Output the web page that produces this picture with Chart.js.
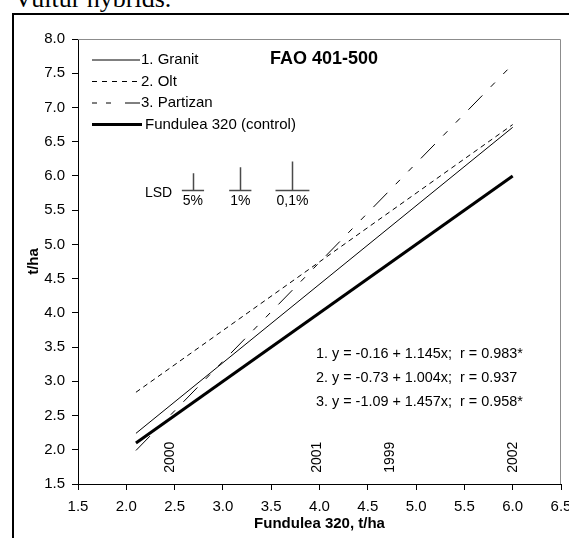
<!DOCTYPE html>
<html lang="en">
<head>
  <meta charset="UTF-8">
  <title>FAO 401-500</title>
  <script src="https://cdn.jsdelivr.net/npm/chart.js"></script>
  <style>
    body { margin: 0; background: #fff; overflow: hidden; }
    .page { position: relative; width: 569px; height: 538px; overflow: hidden; }
    .caption {
      position: absolute; left: 14px; top: -14px;
      font-family: "Liberation Serif", "Times New Roman", serif;
      font-size: 26px; line-height: 26px; white-space: nowrap;
    }
    .frame {
      position: absolute; left: 12px; top: 13px; width: 700px; height: 700px;
      border-left: 2px solid #000; border-top: 2px solid #000;
    }
    canvas { position: absolute; left: 0; top: 0; }
  </style>
</head>
<body>
  <div class="page">
    <div class="caption">Vultur hybrids.</div>
    <div class="frame"></div>
    <canvas id="chart" width="569" height="538"></canvas>
  </div>

  <script>
    // regression lines (x = Fundulea 320 yield)
    const xEnds = [2.1, 6.0];
    const granit = [2.24, 6.71];
    const olt = [2.84, 6.75];
    const partizan = [1.99, 7.63];
    const control = [2.1, 6.0];
    const seriesNames = ['1. Granit', '2. Olt', '3. Partizan', 'Fundulea 320 (control)'];

    const xTicks = [1.5, 2.0, 2.5, 3.0, 3.5, 4.0, 4.5, 5.0, 5.5, 6.0, 6.5];
    const yTicks = [1.5, 2.0, 2.5, 3.0, 3.5, 4.0, 4.5, 5.0, 5.5, 6.0, 6.5, 7.0, 7.5, 8.0];

    // year marks along the x axis
    const years = ['2000', '2001', '1999', '2002'];
    const yearX = [2.45, 3.98, 4.73, 6.0];

    // LSD bars (t/ha)
    const lsdLabels = ['5%', '1%', '0,1%'];
    const lsdValues = [0.25, 0.335, 0.42];
    const lsdX = [2.69, 3.18, 3.72];
    const lsdBase = 5.79;

    const equations = [
      '1. y = -0.16 + 1.145x;  r = 0.983*',
      '2. y = -0.73 + 1.004x;  r = 0.937',
      '3. y = -1.09 + 1.457x;  r = 0.958*'
    ];

    const FONT = '"Liberation Sans", Arial, sans-serif';

    function points(ys) {
      return xEnds.map((x, i) => ({ x: x, y: ys[i] }));
    }

    const styles = [
      { width: 1, dash: [] , legendDash: [] },
      { width: 1, dash: [5, 4], legendDash: [5, 5] },
      { width: 1, dash: [20, 12, 6, 12, 6, 12], legendDash: [5, 9, 5, 14, 15, 10] },
      { width: 3, dash: [], legendDash: [] }
    ];

    const extras = {
      id: 'extras',
      beforeDatasetsDraw(chart) {
        const { ctx, chartArea: a } = chart;
        ctx.save();
        ctx.strokeStyle = '#8c8c8c';
        ctx.lineWidth = 1;
        ctx.beginPath();
        ctx.moveTo(a.left, a.top + 0.5);
        ctx.lineTo(a.right - 0.5, a.top + 0.5);
        ctx.lineTo(a.right - 0.5, a.bottom);
        ctx.stroke();
        ctx.restore();
      },
      afterDraw(chart) {
        const { ctx, scales } = chart;
        const xs = scales.x, ys = scales.y;
        ctx.save();
        ctx.fillStyle = '#000';

        // legend
        const rowY = [60, 81.5, 103, 124.5];
        chart.data.datasets.forEach((ds, i) => {
          ctx.beginPath();
          ctx.setLineDash(styles[i].legendDash);
          ctx.lineWidth = styles[i].width;
          ctx.strokeStyle = '#000';
          ctx.moveTo(92, rowY[i]);
          ctx.lineTo(i === 3 ? 142 : 140, rowY[i]);
          ctx.stroke();
          ctx.font = '15px ' + FONT;
          ctx.textBaseline = 'middle';
          ctx.textAlign = 'left';
          ctx.fillText(ds.label, i === 3 ? 145 : 141, rowY[i]);
        });
        ctx.setLineDash([]);

        // title
        ctx.font = 'bold 18px ' + FONT;
        ctx.fillText('FAO 401-500', 270, 59);

        // LSD
        ctx.font = '14px ' + FONT;
        ctx.fillText('LSD', 145, 193);
        ctx.strokeStyle = '#4a4a4a';
        ctx.lineWidth = 1.5;
        lsdLabels.forEach((lab, i) => {
          const px = xs.getPixelForValue(lsdX[i]);
          const base = ys.getPixelForValue(lsdBase);
          const tip = ys.getPixelForValue(lsdBase + lsdValues[i]);
          const w = ctx.measureText(lab).width;
          ctx.beginPath();
          ctx.moveTo(Math.round(px) + 0.5, tip);
          ctx.lineTo(Math.round(px) + 0.5, base);
          ctx.moveTo(px - w / 2 - 1, Math.round(base) + 0.5);
          ctx.lineTo(px + w / 2 + 1, Math.round(base) + 0.5);
          ctx.stroke();
          ctx.textAlign = 'center';
          ctx.fillText(lab, px, base + 11);
        });

        // equations
        ctx.textAlign = 'left';
        ctx.font = '14.4px ' + FONT;
        [354, 378, 402].forEach((y, i) => ctx.fillText(equations[i], 316, y));

        // years
        ctx.font = '14px ' + FONT;
        ctx.textAlign = 'center';
        years.forEach((yr, i) => {
          ctx.save();
          ctx.translate(xs.getPixelForValue(yearX[i]), ys.getPixelForValue(1.89));
          ctx.rotate(-Math.PI / 2);
          ctx.fillText(yr, 0, 0);
          ctx.restore();
        });
        ctx.restore();
      }
    };

    const datasets = [granit, olt, partizan, control].map((ys, i) => ({
      label: seriesNames[i],
      data: points(ys),
      borderColor: '#000',
      borderWidth: styles[i].width,
      borderDash: styles[i].dash,
      pointRadius: 0,
      fill: false,
      tension: 0
    }));

    new Chart(document.getElementById('chart'), {
      type: 'line',
      data: { datasets: datasets },
      plugins: [extras],
      options: {
        responsive: false,
        animation: false,
        layout: { padding: { left: 0, top: 39, right: 8, bottom: 0 } },
        plugins: { legend: { display: false }, tooltip: { enabled: false } },
        scales: {
          x: {
            type: 'linear',
            min: 1.5, max: 6.5,
            afterBuildTicks: s => { s.ticks = xTicks.map(v => ({ value: v })); },
            afterFit: s => { s.height = 54; s.paddingLeft = 0; s.paddingRight = 0; },
            grid: { drawOnChartArea: false, tickLength: 6, color: '#000' },
            border: { color: '#000', width: 1 },
            ticks: {
              color: '#000', padding: 8, maxRotation: 0, autoSkip: false,
              font: { family: FONT, size: 15 },
              callback: v => Number(v).toFixed(1)
            },
            title: {
              display: true, text: 'Fundulea 320, t/ha', color: '#000',
              font: { family: FONT, size: 15, weight: 'bold' },
              padding: { top: 0, bottom: 5 }
            }
          },
          y: {
            type: 'linear',
            min: 1.5, max: 8.0,
            afterBuildTicks: s => { s.ticks = yTicks.map(v => ({ value: v })); },
            afterFit: s => { s.width = 78; s.paddingTop = 0; s.paddingBottom = 0; },
            grid: { drawOnChartArea: false, tickLength: 6, color: '#000' },
            border: { color: '#000', width: 1 },
            ticks: {
              color: '#000', padding: 7, autoSkip: false,
              font: { family: FONT, size: 15 },
              callback: v => Number(v).toFixed(1)
            },
            title: {
              display: true, text: 't/ha', color: '#000',
              font: { family: FONT, size: 15, weight: 'bold' },
              padding: { top: 25, bottom: 0 }
            }
          }
        }
      }
    });
  </script>
</body>
</html>
